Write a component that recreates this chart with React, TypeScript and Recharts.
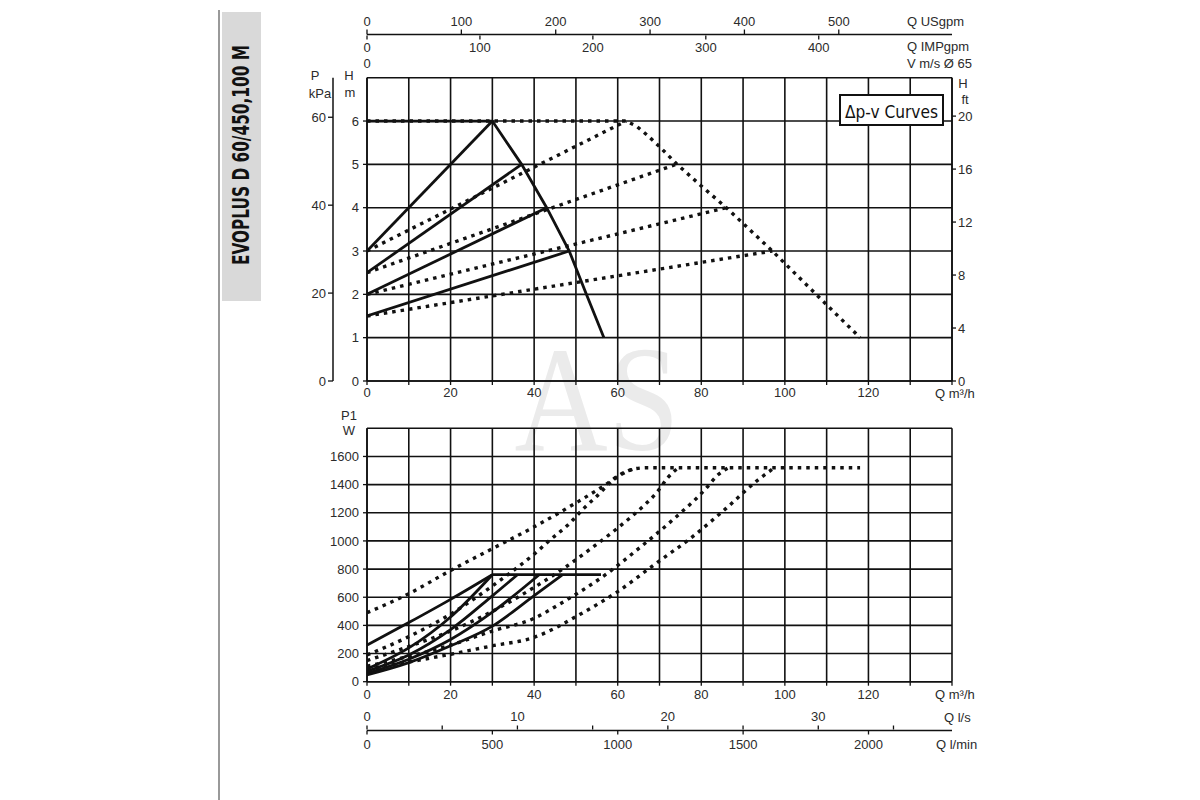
import React from 'react';
import { LineChart, Line, XAxis, YAxis, CartesianGrid } from 'recharts';

const FONT = '"Liberation Sans", Arial, Helvetica, sans-serif';
const INK = '#111';
const TEXT = '#2b2b2b';

// ---------- axis / grid values ----------
const flowGrid = [0, 10, 20, 30, 40, 50, 60, 70, 80, 90, 100, 110, 120, 130, 140];
const headGrid = [0, 1, 2, 3, 4, 5, 6, 7];
const headTicks = [0, 1, 2, 3, 4, 5, 6];
const kpaTicks = [0, 20, 40, 60];
const ftTicks = [0, 4, 8, 12, 16, 20];
const usgpmTicks = [0, 100, 200, 300, 400, 500];
const impgpmTicks = [0, 100, 200, 300, 400];
const velTicks = [0];
const powerGrid = [0, 200, 400, 600, 800, 1000, 1200, 1400, 1600, 1800];
const powerTicks = [0, 200, 400, 600, 800, 1000, 1200, 1400, 1600];
const lsTicks = [0, 5, 10, 15, 20, 25, 30, 35];
const lminTicks = [0, 500, 1000, 1500, 2000];

// axis ranges (same physical flow range 0–140 m³/h in every unit)
const flowDomain = [0, 140];
const usgpmDomain = [0, 620];
const impgpmDomain = [0, 518];
const headDomain = [0, 7];
const kpaDomain = [0, 69];
const ftDomain = [0, 22.9];
const powerDomain = [0, 1800];
const lsDomain = [0, 38.89];
const lminDomain = [0, 2333];
const flowExtent = [{ x: 0 }, { x: 140 }];

// ---------- head curves (m) vs Q (m³/h) ----------
// single pump (solid)
const singleMaxQ = [0, 30, 37, 43, 48.4, 52.5, 56.7];
const singleMaxH = [6, 6, 5, 4, 3, 2, 1];
const single1Q = [0, 30];
const single1H = [3, 6];
const single2Q = [0, 37];
const single2H = [2.5, 5];
const single3Q = [0, 43];
const single3H = [2, 4];
const single4Q = [0, 48.4];
const single4H = [1.5, 3];
// twin pumps (dotted)
const twinMaxQ = [0, 62, 64.5, 67, 70, 74, 80, 86, 97, 108, 118];
const twinMaxH = [6, 6, 5.88, 5.68, 5.41, 5.02, 4.5, 4, 3, 1.95, 1];
const twin1Q = [0, 62];
const twin1H = [3, 6];
const twin2Q = [0, 74];
const twin2H = [2.5, 5];
const twin3Q = [0, 86];
const twin3H = [2, 4];
const twin4Q = [0, 97];
const twin4H = [1.5, 3];

// ---------- power curves P1 (W) vs Q (m³/h) ----------
const pow1Q = [0, 10, 20, 30];
const pow1W = [260, 420, 585, 760];
const powMaxFlatQ = [30, 56];
const powMaxFlatW = [760, 760];
const pow2Q = [0, 10, 20, 30];
const pow2W = [90, 240, 460, 760];
const pow3Q = [0, 10, 20, 30, 36];
const pow3W = [75, 190, 370, 610, 760];
const pow4Q = [0, 10, 20, 30, 41.2];
const pow4W = [60, 160, 300, 494, 760];
const pow5Q = [0, 10, 20, 30, 40, 46.8];
const pow5W = [48, 135, 255, 395, 612, 760];

const twinPow1Q = [0, 10, 20, 30, 40, 50, 56.5, 61, 64, 67, 118];
const twinPow1W = [490, 625, 790, 945, 1100, 1270, 1388, 1478, 1512, 1520, 1520];
const twinPow2Q = [0, 10, 20, 30, 36, 40, 44, 48, 52, 55, 59, 62, 64];
const twinPow2W = [190, 320, 480, 680, 812, 906, 1012, 1111, 1235, 1318, 1435, 1490, 1512];
const twinPow3Q = [0, 10, 20, 30, 40, 47.4, 53.8, 59.7, 65.7, 69.3, 72, 74.5];
const twinPow3W = [150, 250, 360, 500, 670, 812, 950, 1085, 1236, 1342, 1450, 1520];
const twinPow4Q = [0, 10, 20, 30, 40, 46.2, 57.3, 65.3, 73.3, 80.9, 84, 86.5];
const twinPow4W = [110, 180, 260, 360, 450, 553, 765, 953, 1153, 1365, 1470, 1520];
const twinPow5Q = [0, 10, 20, 30, 40, 45, 50, 60, 69, 78, 86, 93.6, 97.5];
const twinPow5W = [90, 140, 195, 255, 315, 380, 462, 640, 837, 1032, 1233, 1434, 1520];

const pts = (xs: number[], ys: number[]) => xs.map((x, i) => ({ x, y: ys[i] }));

const headSolid = [
  pts(singleMaxQ, singleMaxH),
  pts(single1Q, single1H),
  pts(single2Q, single2H),
  pts(single3Q, single3H),
  pts(single4Q, single4H),
];
const headDotted = [
  pts(twinMaxQ, twinMaxH),
  pts(twin1Q, twin1H),
  pts(twin2Q, twin2H),
  pts(twin3Q, twin3H),
  pts(twin4Q, twin4H),
];
const powSolid = [
  pts(pow1Q, pow1W),
  pts(powMaxFlatQ, powMaxFlatW),
  pts(pow2Q, pow2W),
  pts(pow3Q, pow3W),
  pts(pow4Q, pow4W),
  pts(pow5Q, pow5W),
];
const powDotted = [
  pts(twinPow1Q, twinPow1W),
  pts(twinPow2Q, twinPow2W),
  pts(twinPow3Q, twinPow3W),
  pts(twinPow4Q, twinPow4W),
  pts(twinPow5Q, twinPow5W),
];

const tickStyle = { fontSize: 13, fill: TEXT, fontFamily: FONT };
const axisLineStyle = { stroke: INK, strokeWidth: 1.5 };
const tickLineStyle = { stroke: INK, strokeWidth: 1.3 };
const fmt20 = (v: number) => (v % 20 === 0 && v <= 120 ? String(v) : '');
const fmt10 = (v: number) => (v % 10 === 0 ? String(v) : '');
const topMargin = { top: 10, right: 200, bottom: 0, left: 293 };
const bottomMargin = { top: 28.3, right: 248, bottom: 39.5, left: 293 };

const GRID_W = 1.6;
const SOLID_W = 2.8;
const DOT_W = 3.4;
const DASH = '3.5 5';

function TopChart() {
  return (
    <LineChart width={1200} height={420} margin={topMargin} data={flowExtent}>
      <CartesianGrid xAxisId="q" yAxisId="h" stroke={INK} strokeWidth={GRID_W}
        horizontalValues={headGrid} verticalValues={flowGrid} />
      <XAxis xAxisId="t1v" orientation="top" dataKey="x" type="number" domain={flowDomain} allowDataOverflow
        ticks={velTicks} height={42.2} axisLine={false} tickLine={false} tickSize={0} tickMargin={9.7}
        tick={tickStyle} interval={0} />
      <XAxis xAxisId="t2imp" orientation="top" dataKey="x" type="number" domain={impgpmDomain} allowDataOverflow
        ticks={impgpmTicks} height={1} axisLine={false} tickSize={-4} tickMargin={-12.3}
        tickLine={tickLineStyle} tick={tickStyle} interval={0} />
      <XAxis xAxisId="t3us" orientation="top" dataKey="x" type="number" domain={usgpmDomain} allowDataOverflow
        ticks={usgpmTicks} height={24.5} axisLine={axisLineStyle} tickSize={5} tickMargin={3.7}
        tickLine={tickLineStyle} tick={tickStyle} interval={0} />
      <XAxis xAxisId="q" dataKey="x" type="number" domain={flowDomain} allowDataOverflow
        ticks={flowGrid} tickFormatter={fmt20} height={39} tickSize={4} tickMargin={2.3}
        axisLine={axisLineStyle} tickLine={tickLineStyle} tick={tickStyle} interval={0} />
      <YAxis yAxisId="h" type="number" domain={headDomain} allowDataOverflow ticks={headTicks}
        width={34} tickSize={4} tickMargin={4} axisLine={axisLineStyle} tickLine={tickLineStyle}
        tick={tickStyle} interval={0} />
      <YAxis yAxisId="kpa" type="number" domain={kpaDomain} allowDataOverflow ticks={kpaTicks}
        width={40} tickSize={5} tickMargin={2} axisLine={axisLineStyle} tickLine={tickLineStyle}
        tick={tickStyle} interval={0} />
      <YAxis yAxisId="ft" orientation="right" type="number" domain={ftDomain} allowDataOverflow
        ticks={ftTicks} width={48} tickSize={4} tickMargin={2} axisLine={axisLineStyle}
        tickLine={tickLineStyle} tick={tickStyle} interval={0} />
      {headDotted.map((d, i) => (
        <Line key={'hd' + i} xAxisId="q" yAxisId="h" data={d} dataKey="y"
          type="linear" stroke={INK} strokeWidth={DOT_W} strokeDasharray={DASH}
          dot={false} activeDot={false} isAnimationActive={false} />
      ))}
      {headSolid.map((d, i) => (
        <Line key={'hs' + i} xAxisId="q" yAxisId="h" data={d} dataKey="y"
          type="linear" stroke={INK} strokeWidth={SOLID_W}
          dot={false} activeDot={false} isAnimationActive={false} />
      ))}
    </LineChart>
  );
}

function BottomChart() {
  return (
    <LineChart width={1200} height={400} margin={bottomMargin} data={flowExtent}>
      <CartesianGrid xAxisId="b1q" yAxisId="w" stroke={INK} strokeWidth={GRID_W}
        horizontalValues={powerGrid} verticalValues={flowGrid} />
      <XAxis xAxisId="b1q" dataKey="x" type="number" domain={flowDomain} allowDataOverflow
        ticks={flowGrid} tickFormatter={fmt20} height={47.8} tickSize={4} tickMargin={3.6}
        axisLine={axisLineStyle} tickLine={tickLineStyle} tick={tickStyle} interval={0} />
      <XAxis xAxisId="b2ls" dataKey="x" type="number" domain={lsDomain} allowDataOverflow
        ticks={lsTicks} tickFormatter={fmt10} height={1} axisLine={false} tickSize={-4} tickMargin={-13.6}
        tickLine={tickLineStyle} tick={tickStyle} interval={0} />
      <XAxis xAxisId="b3lmin" dataKey="x" type="number" domain={lminDomain} allowDataOverflow
        ticks={lminTicks} height={30} tickSize={4} tickMargin={4.9}
        axisLine={axisLineStyle} tickLine={tickLineStyle} tick={tickStyle} interval={0} />
      <YAxis yAxisId="w" type="number" domain={powerDomain} allowDataOverflow ticks={powerTicks}
        width={74} tickSize={4} tickMargin={4} axisLine={axisLineStyle} tickLine={tickLineStyle}
        tick={tickStyle} interval={0} />
      {powDotted.map((d, i) => (
        <Line key={'pd' + i} xAxisId="b1q" yAxisId="w" data={d} dataKey="y"
          type="monotone" stroke={INK} strokeWidth={DOT_W} strokeDasharray={DASH}
          dot={false} activeDot={false} isAnimationActive={false} />
      ))}
      {powSolid.map((d, i) => (
        <Line key={'ps' + i} xAxisId="b1q" yAxisId="w" data={d} dataKey="y"
          type="monotone" stroke={INK} strokeWidth={SOLID_W}
          dot={false} activeDot={false} isAnimationActive={false} />
      ))}
    </LineChart>
  );
}

const labelStyle = { fontFamily: FONT, fontSize: 13, fill: TEXT } as const;
const NARROW = '"Liberation Sans Narrow", "DejaVu Sans Condensed", "Liberation Sans", Arial, sans-serif';

export default function App() {
  return (
    <div style={{ position: 'absolute', left: 0, top: 0, width: 1200, height: 800, background: '#fff', overflow: 'hidden' }}>
      <svg width={1200} height={800} style={{ position: 'absolute', left: 0, top: 0, zIndex: 0 }}>
        <text x={597} y={450} textAnchor="middle" fontFamily='"Liberation Serif", "DejaVu Serif", serif'
          fontSize={150} fill="#ebebeb" textLength={165} lengthAdjust="spacingAndGlyphs">AS</text>
      </svg>
      <div style={{ position: 'absolute', left: 0, top: 0, zIndex: 1 }}>
        <TopChart />
      </div>
      <div style={{ position: 'absolute', left: 0, top: 400, zIndex: 1 }}>
        <BottomChart />
      </div>
      <svg width={1200} height={800} style={{ position: 'absolute', left: 0, top: 0, zIndex: 2, pointerEvents: 'none' }}>
        <line x1={219} y1={10} x2={219} y2={800} stroke="#555" strokeWidth={1.2} />
        <rect x={222} y={12} width={39} height={289} fill="#d9d9d9" />
        <text transform="translate(249,155) rotate(-90)" textAnchor="middle"
          fontFamily={NARROW} fontWeight="bold" fontSize={23} fill="#111"
          textLength={220} lengthAdjust="spacingAndGlyphs">EVOPLUS D 60/450,100 M</text>

        <text x={315} y={80} textAnchor="middle" {...labelStyle}>P</text>
        <text x={320} y={98} textAnchor="middle" {...labelStyle}>kPa</text>
        <text x={349} y={80} textAnchor="middle" {...labelStyle}>H</text>
        <text x={350} y={97} textAnchor="middle" {...labelStyle}>m</text>
        <text x={963} y={88} textAnchor="middle" {...labelStyle}>H</text>
        <text x={965} y={104} textAnchor="middle" {...labelStyle}>ft</text>

        <text x={907} y={26} {...labelStyle}>Q USgpm</text>
        <text x={907} y={51} {...labelStyle}>Q IMPgpm</text>
        <text x={907} y={68} {...labelStyle}>V m/s Ø 65</text>

        <rect x={840} y={95} width={103} height={30} fill="#fff" stroke="#111" strokeWidth={2} />
        <text x={845} y={118} fontFamily={NARROW} fontSize={18} fill="#111"
          textLength={93} lengthAdjust="spacingAndGlyphs">Δp-v Curves</text>

        <text x={935} y={398} {...labelStyle}>Q m³/h</text>
        <text x={349} y={420} textAnchor="middle" {...labelStyle}>P1</text>
        <text x={349} y={435} textAnchor="middle" {...labelStyle}>W</text>
        <text x={935} y={699} {...labelStyle}>Q m³/h</text>
        <text x={944} y={722} {...labelStyle}>Q l/s</text>
        <text x={936} y={749} {...labelStyle}>Q l/min</text>
      </svg>
    </div>
  );
}
